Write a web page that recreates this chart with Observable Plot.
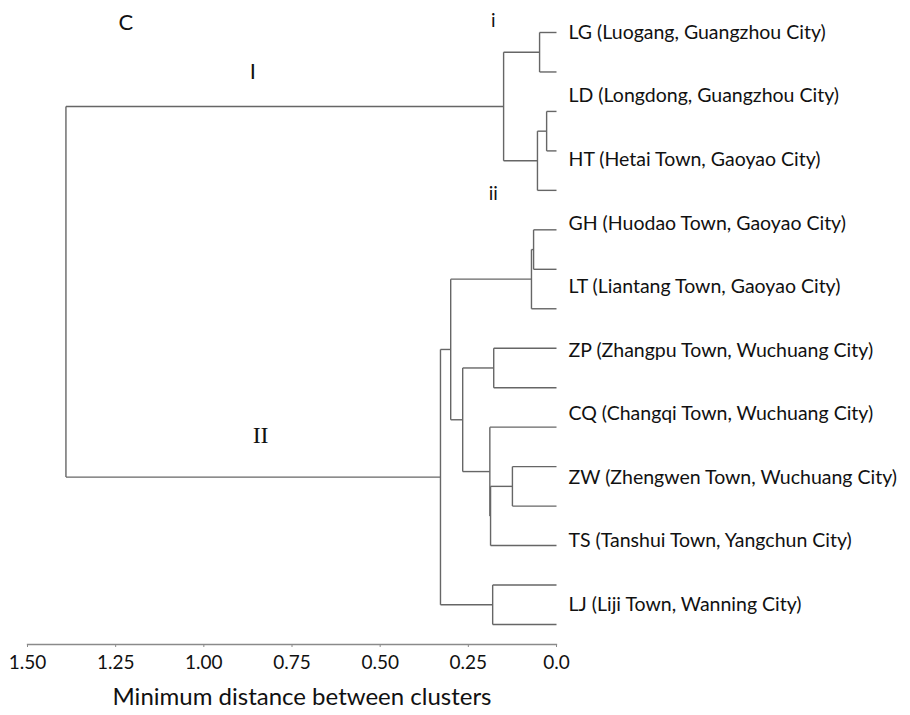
<!DOCTYPE html>
<html><head><meta charset="utf-8">
<script src="https://cdn.jsdelivr.net/npm/d3@7"></script>
<script src="https://cdn.jsdelivr.net/npm/@observablehq/plot@0.6"></script>
<style>body{margin:0;background:#fff;} #chart svg{display:block;}</style>
</head><body><div id="chart"></div>
<script>
// ---- data ----
const leafCount = 16;
// agglomerative merges (scipy-like): node id = leafCount + index
const mergeLeft   = [0, 2, 17, 16, 5, 20, 8, 11, 23, 10, 22, 21, 14, 27, 19];
const mergeRight  = [1, 3, 4, 18, 6, 7, 9, 12, 13, 24, 25, 26, 15, 28, 29];
const mergeHeight = [0.048, 0.028, 0.054, 0.150, 0.065, 0.071, 0.178, 0.125, 0.187, 0.189, 0.266, 0.300, 0.181, 0.329, 1.391];
const siteLabels = [
  "LG (Luogang, Guangzhou City)",
  "LD (Longdong, Guangzhou City)",
  "HT (Hetai Town, Gaoyao City)",
  "GH (Huodao Town, Gaoyao City)",
  "LT (Liantang Town, Gaoyao City)",
  "ZP (Zhangpu Town, Wuchuang City)",
  "CQ (Changqi Town, Wuchuang City)",
  "ZW (Zhengwen Town, Wuchuang City)",
  "TS (Tanshui Town, Yangchun City)",
  "LJ (Liji Town, Wanning City)"
];
const tickValues = [1.5, 1.25, 1.0, 0.75, 0.5, 0.25, 0];
const tickLabels = ["1.50", "1.25", "1.00", "0.75", "0.50", "0.25", "0.0"];
const axisTitle = "Minimum distance between clusters";

// ---- layout of the tree (standard dendrogram) ----
const nodeX = [], nodeY = [];
for (let i = 0; i < leafCount; i++) { nodeX[i] = 0; nodeY[i] = i; }
const segments = [];
mergeHeight.forEach((h, k) => {
  const id = leafCount + k, a = mergeLeft[k], b = mergeRight[k];
  nodeX[id] = h;
  nodeY[id] = (nodeY[a] + nodeY[b]) / 2;
  segments.push({x1: h, y1: nodeY[a], x2: h, y2: nodeY[b]});
  segments.push({x1: nodeX[a], y1: nodeY[a], x2: h, y2: nodeY[a]});
  segments.push({x1: nodeX[b], y1: nodeY[b], x2: h, y2: nodeY[b]});
});
const labelStep = (leafCount - 1.5) / (siteLabels.length - 1);
const labelRows = siteLabels.map((t, i) => ({t, x: 0, y: i * labelStep}));

const lineColor = "#666";
const chart = Plot.plot({
  width: 910,
  height: 715,
  marginLeft: 27,
  marginRight: 354,
  marginTop: 32,
  marginBottom: 71,
  style: {fontFamily: "Lato, 'Open Sans', sans-serif", color: "#111", background: "#fff"},
  x: {domain: [1.5, 0]},
  y: {domain: [0, leafCount - 1], reverse: true, insetBottom: 20, axis: null},
  marks: [
    Plot.frame({anchor: "bottom", stroke: "#8a8a8a", strokeWidth: 1.3}),
    Plot.axisX({
      ticks: tickValues,
      tickFormat: d => tickLabels[tickValues.indexOf(d)],
      tickSize: 3, tickPadding: 8, fontSize: 19, stroke: "#8a8a8a", label: null
    }),
    Plot.text([axisTitle], {frameAnchor: "bottom", dy: 60, dx: 10, fontSize: 24, fill: "#111"}),
    Plot.link(segments, {x1: "x1", y1: "y1", x2: "x2", y2: "y2", stroke: lineColor, strokeWidth: 1.4}),
    Plot.text(labelRows, {x: "x", y: "y", text: "t", textAnchor: "start", dx: 12, fontSize: 19.5, fill: "#111"}),
    Plot.text([{t: "C", x: 1.221, y: -0.25}], {x: "x", y: "y", text: "t", fontSize: 22, fill: "#111"}),
    Plot.text([{t: "I", x: 0.861, y: 0.99}], {x: "x", y: "y", text: "t", fontSize: 22, fill: "#111"}),
    Plot.text([{t: "i", x: 0.179, y: -0.3}, {t: "ii", x: 0.179, y: 4.08}], {x: "x", y: "y", text: "t", fontSize: 19, fill: "#111"}),
    Plot.text([{t: "II", x: 0.839, y: 10.2}], {x: "x", y: "y", text: "t", fontSize: 24, fontFamily: "'Liberation Serif', serif", fill: "#111"})
  ]
});
document.getElementById("chart").append(chart);
</script>
</body></html>
